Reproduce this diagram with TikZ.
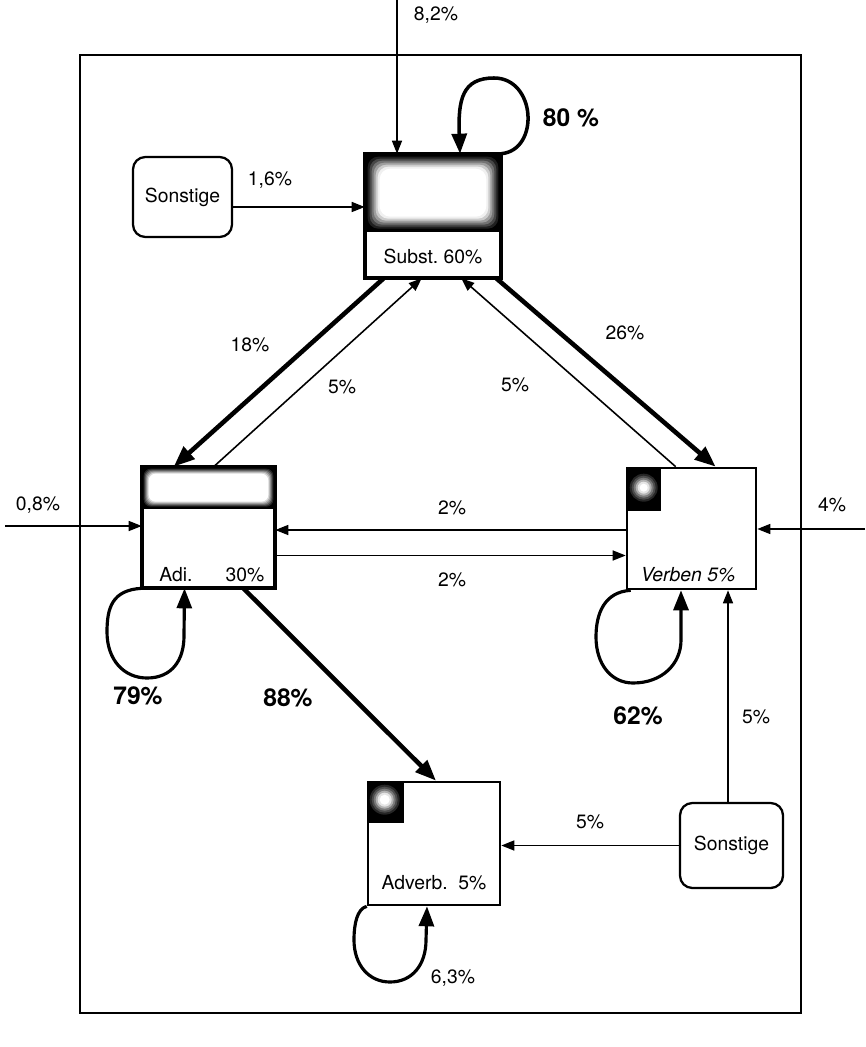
\documentclass[tikz,border=0pt]{standalone}
\usepackage{fontspec}
\setmainfont{TeX Gyre Heros}
\usepackage{tikz}
\usetikzlibrary{arrows.meta,positioning}

\begin{document}
\begin{tikzpicture}[x=0.02cm, y=-0.02cm,
  wordbox/.style={draw, line width=1.5pt, fill=white, inner sep=0pt},
  otherbox/.style={draw, line width=1.3pt, rounded corners=7pt, inner sep=0pt, font=\fontsize{11}{13}\selectfont},
  thinarrow/.style={-{Triangle[length=0.26cm, width=0.2cm]}, line width=0.9pt},
  thickarrow/.style={-{Triangle[length=0.42cm, width=0.32cm]}, line width=2.6pt},
  loopline/.style={-{Triangle[length=0.4cm, width=0.3cm]}, line width=1.8pt},
  pct/.style={font=\fontsize{11}{13}\selectfont},
  bigpct/.style={font=\fontsize{14}{16}\selectfont\bfseries}
]
\useasboundingbox (0,0) rectangle (865,1047);

% frame
\draw[line width=1.3pt] (80,55) rectangle (801,1013);

% word classes
\node[wordbox, minimum width=2.68cm, minimum height=2.44cm] (subst) at (433,216) {};
\node[wordbox, minimum width=2.62cm, minimum height=2.38cm] (adj) at (208.5,527.5) {};
\node[wordbox, minimum width=2.58cm, minimum height=2.42cm] (verb) at (691.5,528.5) {};
\node[wordbox, minimum width=2.64cm, minimum height=2.46cm] (adverb) at (434,843.5) {};

% dark heads, fading to white inside
\fill[black] (subst.north west) rectangle ([yshift=-1.56cm]subst.north east);
\foreach \d/\c in {3/88,5/72,7/55,9/38,11/20,13/6,15/0}
  \fill[black!\c, rounded corners=6pt] ([xshift=\d*0.02cm, yshift=-\d*0.02cm]subst.north west) rectangle ([xshift=-\d*0.02cm, yshift=-1.56cm+\d*0.02cm]subst.north east);
\draw[line width=1.5pt] (subst.north west) rectangle (subst.south east);
\fill[black] (adj.north west) rectangle ([yshift=-0.84cm]adj.north east);
\foreach \d/\c in {2/85,3/68,4/50,5/32,6/15,7/0}
  \fill[black!\c, rounded corners=4pt] ([xshift=\d*0.02cm, yshift=-\d*0.02cm]adj.north west) rectangle ([xshift=-\d*0.02cm, yshift=-0.84cm+\d*0.02cm]adj.north east);
\draw[line width=1.5pt] (adj.north west) rectangle (adj.south east);

\fill[black] (verb.north west) rectangle ([shift={(0.7cm,-0.88cm)}]verb.north west);
\coordinate (verbspot) at ([shift={(0.36cm,-0.42cm)}]verb.north west);
\foreach \r/\c in {14/85,12/70,10/52,8/30,6/10,4/0}
  \fill[black!\c] (verbspot) circle (\r*0.02cm);
\fill[black] (adverb.north west) rectangle ([shift={(0.74cm,-0.84cm)}]adverb.north west);
\coordinate (advspot) at ([shift={(0.36cm,-0.38cm)}]adverb.north west);
\foreach \r/\c in {15/85,13/70,11/52,9/30,7/10,5/0}
  \fill[black!\c] (advspot) circle (\r*0.02cm);

\node[pct] (substlbl) at (433,256) {Subst.\ 60\%};
\node[pct] (adjlbl) at (176,575) {Adi.};
\node[pct] (adjpct) at (245,575) {30\%};
\node[pct, font=\fontsize{11}{13}\selectfont\itshape] (verblbl) at (688,575) {Verben 5\%};
\node[pct] (adverblbl) at (434,883) {Adverb.\ \ 5\%};

\node[otherbox, minimum width=1.98cm, minimum height=1.6cm] (son1) at (182.5,197) {Sonstige};
\node[otherbox, minimum width=2.06cm, minimum height=1.7cm] (son2) at (731.5,845.5) {Sonstige};

\coordinate (in82) at (397,0);
\coordinate (in08) at (5,526);
\coordinate (in4) at (865,529);

% inflows
\draw[thinarrow] (in82) -- (in82 |- subst.north);
\draw[thinarrow] (in08) -- (in08 -| adj.west);
\draw[thinarrow] (in4) -- (in4 -| verb.east);
\draw[thinarrow] ([yshift=-0.2cm]son1.east) -- ([yshift=-0.2cm]son1.east -| subst.west);
\draw[thinarrow] ([xshift=-0.07cm]son2.north) -- ([xshift=-0.07cm]son2.north |- verb.south);
\draw[thinarrow] (son2.west) -- (son2.west -| adverb.east);

% transitions
\draw[thickarrow] ([xshift=0.38cm]subst.south west) -- ([xshift=0.64cm]adj.north west);
\draw[thinarrow] ([xshift=1.44cm]adj.north west) -- ([xshift=1.14cm]subst.south west);
\draw[thickarrow] ([xshift=-0.1cm]subst.south east) -- ([xshift=1.8cm]verb.north west);
\draw[thinarrow] ([xshift=1.0cm]verb.north west) -- ([xshift=-0.8cm]subst.south east);
\draw[thinarrow] ([yshift=-0.03cm]verb.west) -- ([yshift=-0.03cm]verb.west -| adj.east);
\draw[thinarrow] ([yshift=-0.56cm]adj.east) -- ([yshift=-0.56cm]adj.east -| verb.west);
\draw[thickarrow] ([xshift=-0.64cm]adj.south east) -- ([xshift=0.04cm]adverb.north);

% self loops
\draw[loopline, line width=2pt] (subst.north east) .. controls (540,150) and (536,78) .. (494,78) .. controls (462,78) and (458,100) .. ([xshift=0.54cm]subst.north);
\draw[loopline] (adj.south west) .. controls (112,590) and (107,608) .. (107,632) .. controls (107,660) and (124,678) .. (147,678) .. controls (172,678) and (184,660) .. (184,636) -- ([xshift=-0.48cm]adj.south);
\draw[loopline] ([xshift=0.1cm]verb.south west) .. controls (604,592) and (596,614) .. (596,637) .. controls (596,664) and (611,683) .. (633,683) .. controls (662,683) and (681,664) .. (681,640) -- ([xshift=-0.21cm]verb.south);
\draw[loopline] (adverb.south west) .. controls (357,909) and (354,924) .. (354,940) .. controls (354,965) and (369,982) .. (390,982) .. controls (412,982) and (426,965) .. (426,940) -- ([xshift=-0.14cm]adverb.south);

% labels
\node[pct] (l82) at (436,15) {8,2\%};
\node[bigpct] (l80) at (571,118) {80\ \%};
\node[pct] (l16) at (270,180) {1,6\%};
\node[pct] (l18) at (250,345) {18\%};
\node[pct] (l5a) at (342,387) {5\%};
\node[pct] (l26) at (625,333) {26\%};
\node[pct] (l5b) at (515,385) {5\%};
\node[pct] (l08) at (38,505) {0,8\%};
\node[pct] (l4) at (832,505) {4\%};
\node[pct] (l2a) at (452,508) {2\%};
\node[pct] (l2b) at (452,580) {2\%};
\node[bigpct] (l79) at (138,696) {79\%};
\node[bigpct] (l88) at (288,698) {88\%};
\node[bigpct] (l62) at (638,716) {62\%};
\node[pct] (l5c) at (756,717) {5\%};
\node[pct] (l5d) at (590,822) {5\%};
\node[pct] (l63) at (453,978) {6,3\%};
\end{tikzpicture}
\end{document}
